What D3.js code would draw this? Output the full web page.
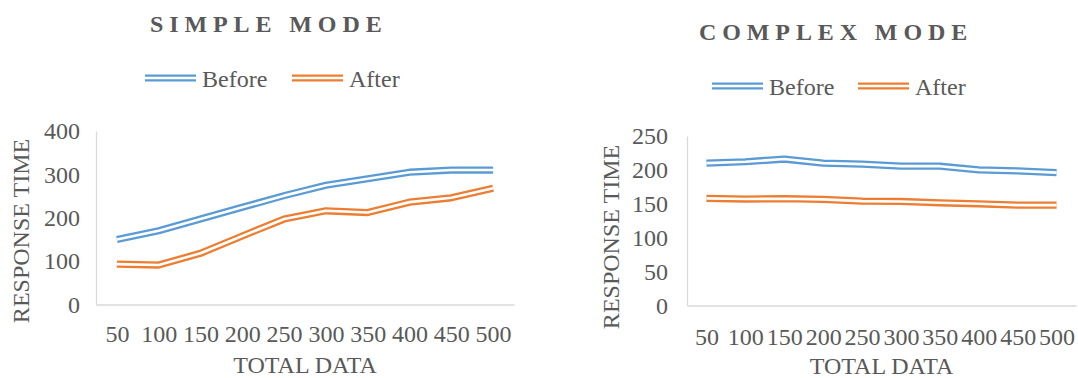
<!DOCTYPE html>
<html>
<head>
    <title>response time</title>
    <script src="https://d3js.org/d3.v7.min.js"></script>
    <style>
        body { margin: 0; background: #fff; }
        svg text { font-family: "Liberation Serif", Tinos, "Times New Roman", Times, "DejaVu Serif", serif !important; fill: #595959; }
    </style>
</head>
<body>
    <svg id="chart" width="1078" height="378"></svg>

    <script>
    // data
    var categories = [50, 100, 150, 200, 250, 300, 350, 400, 450, 500];
    var seriesNames = ["Before", "After"];
    var simpleBefore = [150, 170, 197, 224, 251, 275, 290, 305, 310, 310];
    var simpleAfter = [93, 91, 118, 158, 197, 216, 212, 236, 246, 268];
    var complexBefore = [210, 212, 216, 210, 208.5, 205.5, 205.5, 200, 198.5, 196];
    var complexAfter = [158, 157, 157.5, 156.5, 154, 153.5, 151.5, 150, 148, 148];
    var simpleTicks = [0, 100, 200, 300, 400];
    var complexTicks = [0, 50, 100, 150, 200, 250];

    var colors = ["#5b9bd5", "#ed7d31"];
    var fontSize = '24px';
    var svg = d3.select('#chart');

    // Excel "double" line: thick colored stroke with a white core
    function doubleLine(g, pts, color) {
        var line = d3.line().x(function(d) { return d[0]; }).y(function(d) { return d[1]; });
        g.append('path').attr('d', line(pts)).attr('fill', 'none')
            .attr('stroke', color).attr('stroke-width', 7.2).attr('stroke-linejoin', 'round');
        g.append('path').attr('d', line(pts)).attr('fill', 'none')
            .attr('stroke', '#fff').attr('stroke-width', 2.6).attr('stroke-linejoin', 'round');
    }

    function drawPanel(p) {
        var g = svg.append('g');

        var x = d3.scalePoint().domain(categories).range([p.x0, p.x1]).padding(0.5);
        var y = d3.scaleLinear().domain([0, p.ticks[p.ticks.length - 1]]).range([p.y0, p.y1]);

        var yAxis = g.append('g')
            .attr('transform', `translate(${p.x0}, 0)`)
            .call(d3.axisLeft(y).tickValues(p.ticks).tickSize(0).tickPadding(p.yPad));
        var xAxis = g.append('g')
            .attr('transform', `translate(0, ${p.y0})`)
            .call(d3.axisBottom(x).tickSize(0).tickPadding(p.xPad));

        [yAxis, xAxis].forEach(function(a) {
            a.attr('font-family', null).attr('font-size', null);
            a.select('.domain').attr('stroke', '#d9d9d9').attr('stroke-width', 1.3);
            a.selectAll('text').style('font-size', fontSize).attr('fill', '#595959');
        });

        p.series.forEach(function(vals, i) {
            var pts = vals.map(function(v, j) { return [x(categories[j]), y(v)]; });
            doubleLine(g, pts, colors[i]);
        });

        // titles
        g.append('text')
            .attr('x', p.titleX).attr('y', p.titleY)
            .style('font-size', '24px').style('font-weight', 'bold')
            .style('letter-spacing', '5.9px').attr('fill', '#7f7f7f')
            .text(p.title);

        g.append('text')
            .attr('x', (p.x0 + p.x1) / 2).attr('y', p.xTitleY)
            .attr('text-anchor', 'middle').style('font-size', fontSize)
            .text('TOTAL DATA');

        g.append('text')
            .attr('transform', `translate(${p.yTitleX}, ${p.yTitleY}) rotate(-90)`)
            .attr('text-anchor', 'middle').style('font-size', fontSize)
            .text('RESPONSE TIME');

        // legend
        seriesNames.forEach(function(name, i) {
            var lx = p.legendX[i];
            doubleLine(g, [[lx, p.legendY], [lx + 51, p.legendY]], colors[i]);
            g.append('text')
                .attr('x', lx + 57).attr('y', p.legendY + 9)
                .style('font-size', fontSize)
                .text(name);
        });
    }

    drawPanel({
        title: 'SIMPLE MODE', titleX: 150, titleY: 32,
        x0: 96, x1: 514, y0: 304.5, y1: 131,
        ticks: simpleTicks, yPad: 16, xPad: 20,
        series: [simpleBefore, simpleAfter],
        xTitleY: 373, yTitleX: 29, yTitleY: 231,
        legendX: [145, 292], legendY: 78
    });

    drawPanel({
        title: 'COMPLEX MODE', titleX: 699, titleY: 40,
        x0: 687, x1: 1076, y0: 305.5, y1: 136,
        ticks: complexTicks, yPad: 19, xPad: 22,
        series: [complexBefore, complexAfter],
        xTitleY: 374, yTitleX: 619, yTitleY: 237,
        legendX: [712, 858], legendY: 86
    });
    </script>
</body>
</html>
